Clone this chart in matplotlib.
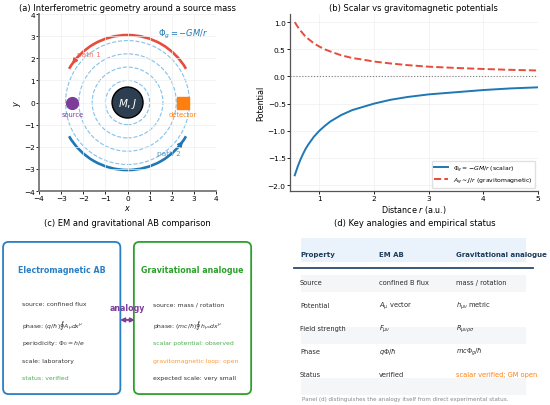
import numpy as np
import matplotlib
matplotlib.use('Agg')
import matplotlib.pyplot as plt
from matplotlib import patches

plt.rcParams['font.family'] = ['DejaVu Sans']
plt.rcParams['font.size'] = 5.3
plt.rcParams['mathtext.fontset'] = 'dejavusans'

# panel (a) geometry
ring_radii = [1.0, 1.6, 2.2, 2.8]
mass_radius = 0.7
path_radius = 3.05
source_xy = (-2.5, 0.0)
detector_xy = (2.5, 0.0)

# panel (b) potentials
r_vals = [0.55, 0.6, 0.65, 0.7, 0.75, 0.8, 0.9, 1.0, 1.1, 1.2, 1.4, 1.6, 1.8,
          2.0, 2.3, 2.6, 3.0, 3.5, 4.0, 4.5, 5.0]
phi_vals = [-1.82, -1.67, -1.54, -1.43, -1.33, -1.25, -1.11, -1.00, -0.91, -0.83,
            -0.71, -0.62, -0.56, -0.50, -0.43, -0.38, -0.33, -0.29, -0.25, -0.22, -0.20]
ag_vals = [1.00, 0.92, 0.85, 0.79, 0.73, 0.69, 0.61, 0.55, 0.50, 0.46,
           0.39, 0.34, 0.31, 0.275, 0.24, 0.21, 0.18, 0.157, 0.138, 0.122, 0.11]

# panel (c) box contents
em_lines = ["source: confined flux",
            r"phase: $(q/\hbar)\oint A_\mu dx^\mu$",
            r"periodicity: $\Phi_0 = h/e$",
            "scale: laboratory",
            "status: verified"]
em_colors = ['#333333', '#333333', '#333333', '#333333', '#4caf50']
gr_lines = ["source: mass / rotation",
            r"phase: $(mc/\hbar)\oint h_{\mu\nu} dx^\mu$",
            "scalar potential: observed",
            "gravitomagnetic loop: open",
            "expected scale: very small"]
gr_colors = ['#333333', '#333333', '#4caf50', '#ff9933', '#333333']

# panel (d) table
col_labels = ["Property", "EM AB", "Gravitational analogue"]
row_props = ["Source", "Potential", "Field strength", "Phase", "Status"]
row_em = ["confined B flux", r"$A_\mu$ vector", r"$F_{\mu\nu}$", r"$q\Phi/\hbar$", "verified"]
row_gr = ["mass / rotation", r"$h_{\mu\nu}$ metric", r"$R_{\mu\nu\rho\sigma}$",
          r"$mc\Phi_g/\hbar$", "scalar verified; GM open"]

RED = '#e74c3c'
BLUE = '#1f77b4'
LIGHTBLUE = '#85c1e9'
PURPLE = '#7d3c98'
ORANGE = '#ff7f0e'
GREEN = '#2ca02c'
NAVY = '#1f3b5a'
TXT = '#2b2b2b'

fig = plt.figure(figsize=(5.5, 4.06), dpi=100)

# ---------- (a) ----------
ax1 = fig.add_axes([0.0709, 0.527, 0.322, 0.436])
for rr in ring_radii:
    ax1.add_patch(patches.Circle((0, 0), rr, fill=False, ls='--', lw=0.8, color=LIGHTBLUE))
ax1.add_patch(patches.Circle((0, 0), mass_radius, facecolor='#2c3e50', edgecolor='black', lw=1.0, zorder=3))
ax1.text(0, 0, r"$M, J$", color='white', fontsize=7.5, ha='center', va='center', zorder=4)
ax1.add_patch(patches.Arc((0, 0), 2 * path_radius, 2 * path_radius, theta1=30, theta2=150,
                          color=RED, lw=1.9))
ax1.add_patch(patches.Arc((0, 0), 2 * path_radius, 2 * path_radius, theta1=210, theta2=330,
                          color=BLUE, lw=1.9))
for ang, col in [(142, RED), (-38, BLUE)]:
    t = np.deg2rad(ang)
    px, py = path_radius * np.cos(t), path_radius * np.sin(t)
    dx, dy = -np.sin(t) * 0.3, np.cos(t) * 0.3
    ax1.annotate('', xy=(px + dx, py + dy), xytext=(px, py),
                 arrowprops=dict(arrowstyle='-|>', color=col, lw=1.0, mutation_scale=8))
ax1.text(-1.75, 2.2, "path 1", color=RED, fontsize=5.3, ha='center', va='center', alpha=0.75)
ax1.text(1.85, -2.3, "path 2", color=BLUE, fontsize=5.3, ha='center', va='center', alpha=0.75)
ax1.plot(*source_xy, 'o', color=PURPLE, ms=8.5)
ax1.text(source_xy[0], source_xy[1] - 0.5, "source", color=PURPLE, fontsize=4.8, ha='center', va='center')
ax1.plot(*detector_xy, 's', color=ORANGE, ms=8.5)
ax1.text(detector_xy[0], detector_xy[1] - 0.5, "detector", color=ORANGE, fontsize=4.8, ha='center', va='center')
ax1.text(2.5, 3.1, r"$\Phi_g = -GM/r$", color=BLUE, fontsize=6, ha='center', va='center')
ax1.set_xlim(-4, 4)
ax1.set_ylim(-4, 4)
ax1.set_aspect('equal')
ax1.set_xlabel(r"$x$", labelpad=1, fontsize=5.8)
ax1.set_ylabel(r"$y$", labelpad=1, fontsize=5.8)
ax1.set_title("(a) Interferometric geometry around a source mass", fontsize=6.0, pad=3)
ax1.grid(True, color='#eeeeee', lw=0.5)
ax1.spines['top'].set_visible(False)
ax1.spines['right'].set_visible(False)
for s in ['left', 'bottom']:
    ax1.spines[s].set_color('#777777')
    ax1.spines[s].set_linewidth(1.3)
ax1.tick_params(length=2, width=0.6, pad=1, labelsize=5.3)

# ---------- (b) ----------
ax2 = fig.add_axes([0.527, 0.527, 0.451, 0.436])
ax2.plot(r_vals, phi_vals, color=BLUE, lw=1.4, label=r"$\Phi_g = -GM/r$ (scalar)")
ax2.plot(r_vals, ag_vals, color=RED, lw=1.4, ls='--', label=r"$A_g \sim J/r$ (gravitomagnetic)")
ax2.axhline(0, color='gray', ls=':', lw=0.8)
ax2.set_xlim(0.46, 5)
ax2.set_ylim(-2.11, 1.15)
ax2.set_xticks([1, 2, 3, 4, 5])
ax2.set_xlabel(r"Distance $r$ (a.u.)", labelpad=1, fontsize=5.8)
ax2.set_ylabel("Potential", labelpad=2, fontsize=5.8)
ax2.set_title("(b) Scalar vs gravitomagnetic potentials", fontsize=6.0, pad=3)
ax2.grid(True, color='#eeeeee', lw=0.5)
ax2.spines['top'].set_visible(False)
ax2.spines['right'].set_visible(False)
for s in ['left', 'bottom']:
    ax2.spines[s].set_color('#555555')
    ax2.spines[s].set_linewidth(0.9)
ax2.tick_params(length=2, width=0.6, pad=1, labelsize=5.3)
ax2.legend(loc='lower right', fontsize=4.4, frameon=True, framealpha=0.9, edgecolor='#dddddd',
           handlelength=2.2, borderpad=0.4, labelspacing=0.3)

# ---------- (c) ----------
ax3 = fig.add_axes([0.0, 0.0148, 0.4636, 0.4187])
ax3.set_xlim(0, 10)
ax3.set_ylim(0, 10)
ax3.axis('off')
ax3.set_title("(c) EM and gravitational AB comparison", fontsize=6.0, pad=3)
line_y = [5.59, 4.35, 3.35, 2.29, 1.24]
for x0, col, head, lines, cols in [(0.12, '#2a7fc4', "Electromagnetic AB", em_lines, em_colors),
                                   (5.25, GREEN, "Gravitational analogue", gr_lines, gr_colors)]:
    ax3.add_patch(patches.FancyBboxPatch((x0, 0.29), 4.6, 8.95,
                                         boxstyle="round,pad=0,rounding_size=0.22",
                                         fill=False, edgecolor=col, lw=1.3, mutation_aspect=1.5))
    ax3.text(x0 + 2.3, 7.59, head, color=col, fontsize=5.7, fontweight='bold', ha='center', va='center')
    for yy, txt, c in zip(line_y, lines, cols):
        ax3.text(x0 + 0.74, yy, txt, color=c, fontsize=4.4, ha='left', va='center')
ax3.annotate('', xy=(5.4, 4.65), xytext=(4.6, 4.65),
             arrowprops=dict(arrowstyle='<|-|>', color=PURPLE, lw=1.3, mutation_scale=6))
ax3.text(5.0, 5.41, "analogy", color=PURPLE, fontsize=5.7, fontweight='bold', ha='center', va='center')

# ---------- (d) ----------
ax4 = fig.add_axes([0.518, 0.0148, 0.4727, 0.4187])
ax4.set_xlim(0, 10)
ax4.set_ylim(0, 10)
ax4.axis('off')
ax4.set_title("(d) Key analogies and empirical status", fontsize=6.0, pad=3)
col_x = [0.58, 3.62, 6.58]
ax4.add_patch(patches.Rectangle((0.62, 8.06), 8.65, 1.41, facecolor='#eaf2fb', edgecolor='none'))
for cx, lab in zip(col_x, col_labels):
    ax4.text(cx, 8.53, lab, color=NAVY, fontsize=5.0, fontweight='bold', ha='left', va='center', clip_on=False)
ax4.plot([0.35, 9.54], [7.71, 7.71], color='#2c4a6b', lw=1.3)
for i in range(len(row_props)):
    y = 6.88 - 1.35 * i
    if i % 2 == 0:
        ax4.add_patch(patches.Rectangle((0.62, 6.3 - 1.52 * i), 8.65, 1.0,
                                        facecolor='#f4f6f8', edgecolor='none'))
    ax4.text(col_x[0], y, row_props[i], color=TXT, fontsize=4.8, ha='left', va='center')
    ax4.text(col_x[1], y, row_em[i], color=TXT, fontsize=4.8, ha='left', va='center')
    gcol = ORANGE if i == len(row_props) - 1 else TXT
    ax4.text(col_x[2], y, row_gr[i], color=gcol, fontsize=4.8, ha='left', va='center', clip_on=False)
fig.text(0.737, 0.017, "Panel (d) distinguishes the analogy itself from direct experimental status.",
         color='#888888', fontsize=4.1, ha='center', va='center')

fig.savefig('out.png', dpi=100)
